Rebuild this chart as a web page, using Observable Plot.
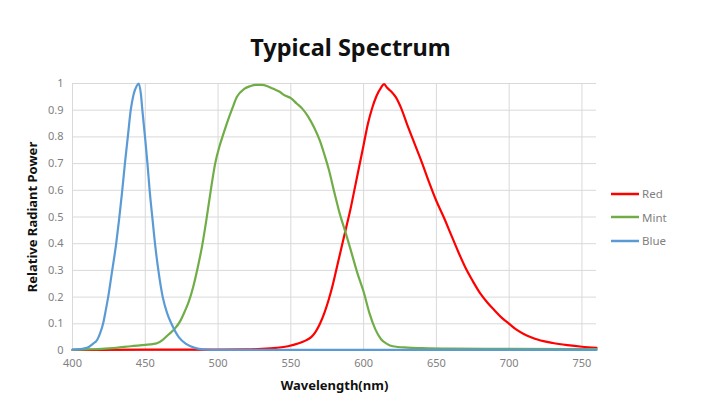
<!DOCTYPE html>
<html>
<head>
<meta charset="utf-8">
<script src="https://cdn.jsdelivr.net/npm/d3@7"></script>
<script src="https://cdn.jsdelivr.net/npm/@observablehq/plot@0.6"></script>
<style>
  body { margin: 0; background: #fff; }
  #chart { position: relative; width: 701px; height: 411px; font-family: "Noto Sans", "Open Sans", sans-serif; }
  #chart > svg { position: absolute; left: 0; top: 0; }
  .title { position: absolute; left: 0; top: 33px; width: 701px; text-align: center;
           font-size: 23.5px; line-height: 28px; font-weight: bold; color: #111; }
  .legend { position: absolute; left: 611px; top: 182px; }
  .legend .item { display: flex; align-items: center; height: 23.5px; font-size: 11.5px; color: #7f7f7f; }
  .legend svg { margin-right: 3px; }
</style>
</head>
<body>
<div id="chart">
  <div class="title">Typical Spectrum</div>
  <div class="legend"></div>
</div>
<script>
// Axis ticks
const xTicks = [400, 450, 500, 550, 600, 650, 700, 750];
const yTicks = [0, 0.1, 0.2, 0.3, 0.4, 0.5, 0.6, 0.7, 0.8, 0.9, 1];

// Series names and colours (legend order)
const seriesNames = ["Red", "Mint", "Blue"];
const seriesColors = ["#ff0000", "#70ad47", "#5b9bd5"];

// Red LED spectrum: wavelength (nm) and relative radiant power
const redNm = [400, 450, 500, 520, 530, 540, 548, 555, 560, 564, 567, 570, 573, 576, 579, 582, 585, 588, 591, 594, 597, 600, 603, 606, 609, 612, 614, 616, 619, 622, 626, 630, 635, 640, 645, 650, 655, 660, 665, 670, 675, 680, 685, 690, 695, 700, 705, 710, 715, 720, 730, 740, 750, 760];
const redPower = [0.002, 0.003, 0.003, 0.004, 0.006, 0.01, 0.016, 0.026, 0.037, 0.05, 0.07, 0.1, 0.14, 0.19, 0.25, 0.32, 0.39, 0.46, 0.53, 0.61, 0.69, 0.77, 0.85, 0.91, 0.955, 0.985, 0.998, 0.985, 0.97, 0.95, 0.905, 0.845, 0.775, 0.705, 0.63, 0.56, 0.5, 0.435, 0.37, 0.31, 0.26, 0.215, 0.18, 0.15, 0.122, 0.1, 0.078, 0.062, 0.05, 0.04, 0.028, 0.02, 0.014, 0.01];

// Mint LED spectrum
const mintNm = [400, 410, 420, 430, 440, 450, 455, 458, 462, 466, 470, 474, 477, 480, 483, 486, 489, 492, 495, 498, 501, 503, 506, 510, 513, 518, 522, 526, 530, 534, 538, 542, 546, 550, 554, 558, 562, 566, 570, 573, 576, 580, 584, 588, 592, 596, 600, 604, 608, 612, 616, 620, 630, 640, 660, 700, 760];
const mintPower = [0.002, 0.004, 0.006, 0.01, 0.016, 0.021, 0.024, 0.027, 0.04, 0.06, 0.08, 0.11, 0.145, 0.185, 0.24, 0.31, 0.39, 0.49, 0.6, 0.7, 0.765, 0.8, 0.85, 0.91, 0.95, 0.98, 0.99, 0.995, 0.995, 0.99, 0.98, 0.97, 0.955, 0.945, 0.925, 0.905, 0.875, 0.835, 0.785, 0.735, 0.68, 0.59, 0.505, 0.435, 0.36, 0.285, 0.22, 0.14, 0.08, 0.042, 0.025, 0.016, 0.011, 0.009, 0.007, 0.006, 0.005];

// Blue LED spectrum
const blueNm = [400, 405, 410, 414, 417, 419, 421, 423, 424.5, 427, 430, 432, 434, 436, 438, 440, 442, 444, 445.5, 447, 448, 450, 451.5, 453, 455, 457, 459, 462, 465, 468, 473, 478, 484, 490, 500, 550, 600, 650, 700, 760];
const bluePower = [0.003, 0.005, 0.01, 0.025, 0.04, 0.065, 0.1, 0.155, 0.2, 0.29, 0.4, 0.49, 0.59, 0.7, 0.8, 0.9, 0.96, 0.99, 1.0, 0.96, 0.9, 0.79, 0.7, 0.6, 0.49, 0.385, 0.3, 0.2, 0.14, 0.1, 0.05, 0.025, 0.01, 0.004, 0.002, 0.002, 0.002, 0.002, 0.002, 0.002];

const toRows = (nm, power) => nm.map((w, i) => ({nm: w, power: power[i]}));
const seriesData = [toRows(redNm, redPower), toRows(mintNm, mintPower), toRows(blueNm, bluePower)];

const chart = Plot.plot({
  width: 701,
  height: 411,
  marginLeft: 72,
  marginRight: 105,
  marginTop: 83,
  marginBottom: 61,
  style: { fontFamily: '"Noto Sans", "Open Sans", sans-serif', fontSize: "11px", color: "#7f7f7f", background: "transparent", overflow: "visible" },
  x: { domain: [400, 760], ticks: xTicks, tickSize: 0, tickPadding: 9, label: null },
  y: { domain: [0, 1], ticks: yTicks, tickSize: 0, tickPadding: 9, label: null, tickFormat: d => String(+d.toFixed(1)) },
  marks: [
    Plot.gridX(xTicks, { stroke: "#d9d9d9", strokeOpacity: 1, strokeWidth: 1 }),
    Plot.gridY(yTicks, { stroke: "#d9d9d9", strokeOpacity: 1, strokeWidth: 1 }),
    Plot.ruleY([0], { stroke: "#bfbfbf" }),
    ...seriesData.map((rows, i) => Plot.line(rows, {
      x: "nm", y: "power", stroke: seriesColors[i], strokeWidth: 2.2, curve: "monotone-x"
    })),
    Plot.text(["Wavelength(nm)"], {
      frameAnchor: "bottom", dy: 35, text: d => d, fill: "#111",
      fontWeight: "bold", fontSize: 13, lineAnchor: "middle"
    }),
    Plot.text(["Relative Radiant Power"], {
      frameAnchor: "left", textAnchor: "middle", dx: -40, rotate: -90, text: d => d,
      fill: "#111", fontWeight: "bold", fontSize: 13, lineAnchor: "middle"
    })
  ]
});
document.getElementById("chart").prepend(chart);

// Legend: short line swatch followed by the series name
const legend = d3.select(".legend");
seriesNames.forEach((name, i) => {
  const item = legend.append("div").attr("class", "item");
  const sw = item.append("svg").attr("width", 28).attr("height", 6);
  sw.append("line").attr("x1", 0).attr("x2", 28).attr("y1", 3).attr("y2", 3)
    .attr("stroke", seriesColors[i]).attr("stroke-width", 2.5);
  item.append("span").text(name);
});
</script>
</body>
</html>
